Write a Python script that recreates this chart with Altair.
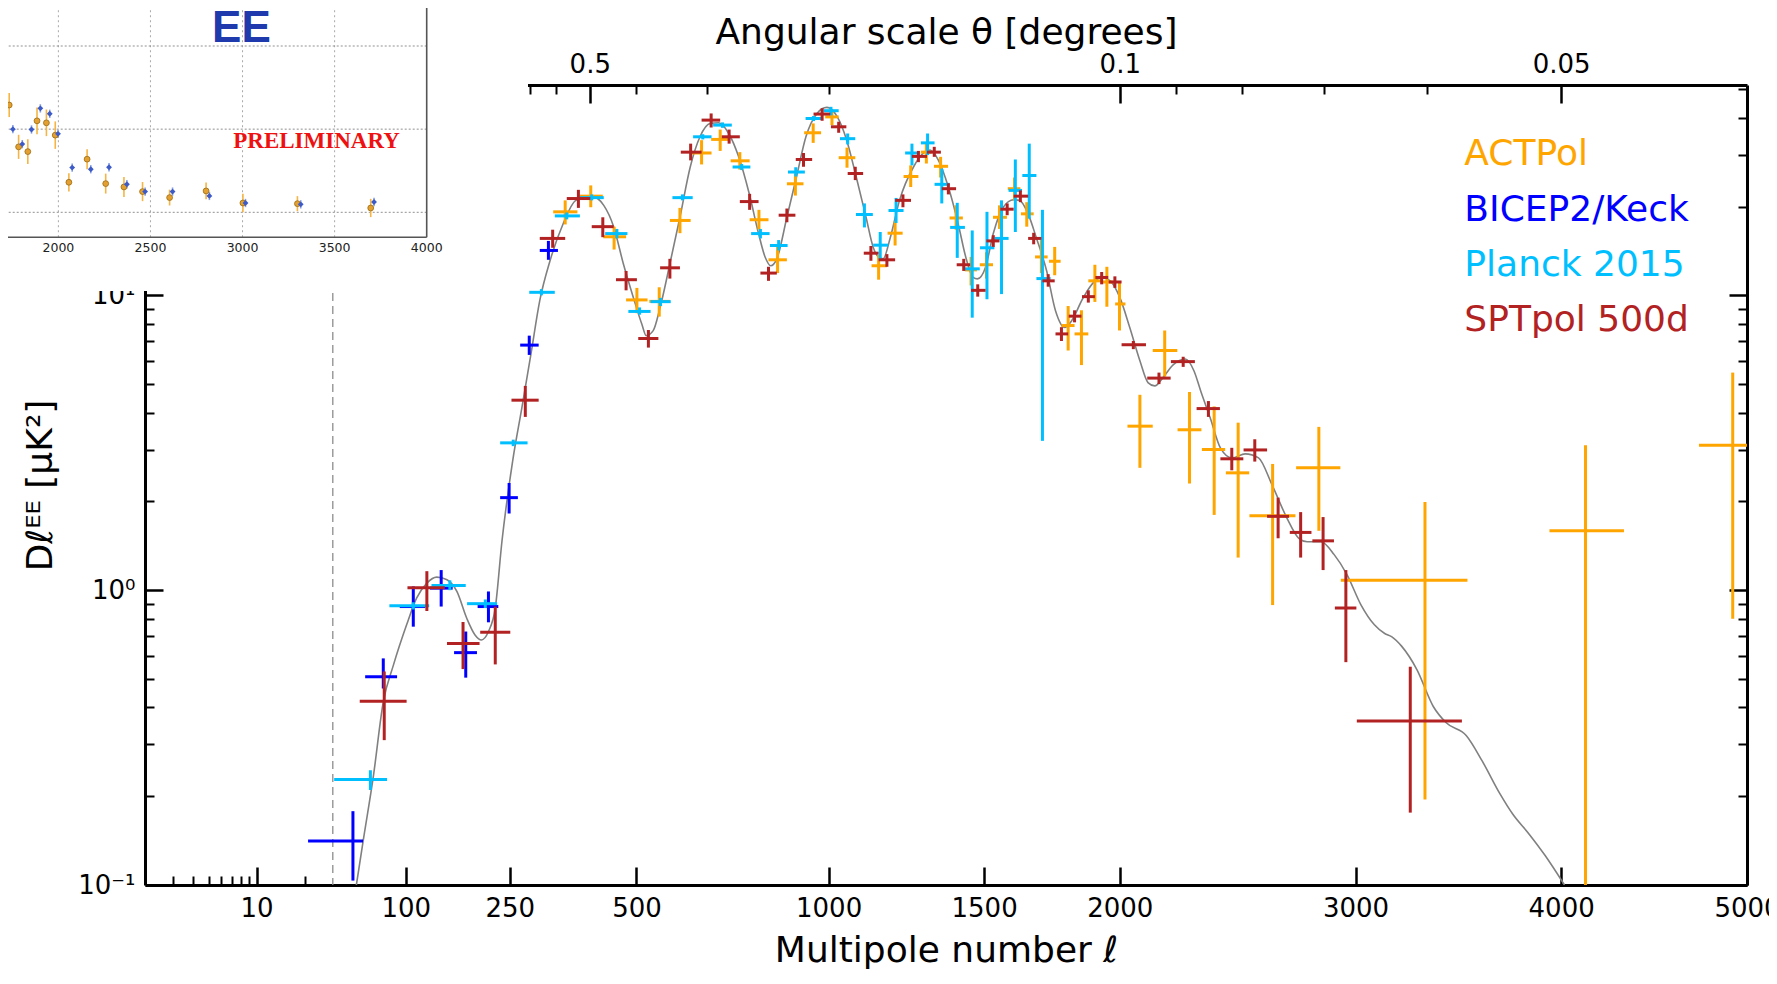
import math
import altair as alt
import pandas as pd

# ---------------- data ----------------
# ACTPol: multipole centre, bin edges, D_l and its error range
act_ell = [351, 402, 451, 501, 552, 601, 654, 701, 752, 803, 854, 904, 955, 1010, 1055, 1152, 1204, 1254, 1305, 1352,
           1404, 1455, 1508, 1554, 1607, 1651, 1704, 1753, 1803, 1853, 1904, 1950, 1999, 2079, 2178, 2279, 2381, 2482,
           2630, 2834, 3325, 4126, 4920]
act_lo = [328, 380, 428, 477, 529, 577, 630, 678, 728, 778, 829, 880, 929, 990, 1030, 1130, 1180, 1231, 1287, 1330,
          1382, 1434, 1485, 1531, 1583, 1630, 1681, 1732, 1778, 1827, 1879, 1930, 1982, 2030, 2130, 2230, 2330, 2430,
          2530, 2733, 2933, 3940, 4733]
act_hi = [375, 427, 477, 525, 577, 627, 679, 726, 778, 829, 880, 927, 978, 1030, 1080, 1178, 1228, 1279, 1322, 1377,
          1427, 1475, 1531, 1580, 1628, 1676, 1727, 1775, 1827, 1879, 1930, 1973, 2022, 2130, 2229, 2328, 2427, 2529,
          2730, 2931, 3530, 4328, 5110]
act_dl = [19.2, 21.7, 15.8, 9.65, 9.54, 17.95, 30.4, 33.8, 28.6, 18.05, 13.2, 23.9, 35.6, 40.3, 29.3, 12.6, 16.25, 25.3,
          30.6, 27.4, 18.3, 12.2, 12.7, 18.4, 23.0, 18.9, 13.5, 13.05, 7.9, 7.4, 11.2, 11.1, 9.35, 3.6, 6.5, 3.5, 3.0,
          2.5, 1.79, 2.6, 1.08, 1.59, 3.10]
act_dl_lo = [17.4, 19.9, 14.3, 8.7, 8.47, 16.25, 27.8, 30.9, 26.7, 16.7, 11.9, 21.8, 32.9, 37.8, 27.1, 11.3, 14.76,
             23.3, 28.0, 25.1, 16.7, 10.8, 11.4, 16.8, 21.0, 17.1, 11.9, 11.7, 6.5, 5.8, 9.5, 9.15, 7.6, 2.6, 5.3, 2.3,
             1.8, 1.29, 0.89, 1.59, 0.195, 0.01, 0.80]
act_dl_hi = [21.0, 23.6, 17.1, 10.6, 10.65, 19.8, 33.6, 36.5, 30.6, 19.5, 14.6, 25.9, 38.3, 42.5, 31.7, 13.7, 17.85,
             27.6, 32.7, 29.5, 20.2, 13.5, 14.0, 20.2, 25.1, 20.7, 15.4, 14.6, 9.2, 8.9, 12.7, 12.5, 11.1, 4.6, 7.6,
             4.7, 4.2, 3.7, 2.68, 3.58, 1.99, 3.10, 5.47]

# BICEP2/Keck
bk_ell = [46, 75, 109, 145, 180, 215, 249, 284, 319]
bk_lo = [21, 57, 93, 130, 163, 198, 234, 268, 303]
bk_hi = [55, 90, 124, 161, 197, 231, 264, 301, 337]
bk_dl = [0.141, 0.509, 0.88, 1.016, 0.614, 0.88, 2.06, 6.78, 14.2]
bk_dl_lo = [0.1035, 0.464, 0.752, 0.88, 0.505, 0.778, 1.82, 6.28, 13.2]
bk_dl_hi = [0.178, 0.587, 1.03, 1.17, 0.724, 0.99, 2.31, 7.30, 15.3]

# Planck 2015
pl_ell = [62, 109, 157, 210, 256, 306, 354, 404, 457, 507, 555, 607, 657, 707, 757, 807, 857, 905, 956, 1007, 1057,
          1108, 1157, 1207, 1258, 1309, 1356, 1408, 1459, 1510, 1561, 1610, 1660, 1708]
pl_lo = [31, 81.5, 132, 182, 234, 284, 331, 380, 432, 482, 532, 583, 633, 683, 733, 782, 833, 883, 933, 985, 1034,
         1082, 1135, 1183, 1236, 1287, 1332, 1384, 1434, 1486, 1537, 1586, 1635, 1686]
pl_hi = [79, 129, 180, 229, 281, 331, 380, 429, 480, 532, 579, 632, 679, 731, 780, 832, 882, 931, 980, 1030, 1080,
         1134, 1182, 1231, 1279, 1332, 1382, 1434, 1485, 1536, 1586, 1634, 1686, 1738]
pl_dl = [0.228, 0.885, 1.037, 0.90, 3.16, 10.24, 18.6, 21.45, 16.2, 8.82, 9.52, 21.45, 34.5, 37.8, 27.25, 16.2, 14.76,
         26.2, 39.8, 42.3, 34.0, 18.8, 14.8, 19.4, 30.4, 32.9, 23.8, 17.0, 12.3, 14.5, 15.6, 22.7, 25.5, 11.4]
pl_dl_lo = [0.21, 0.86, 1.0, 0.87, 3.08, 10.0, 18.1, 21.0, 15.6, 8.6, 9.2, 21.0, 33.8, 37.0, 26.6, 15.6, 14.2, 25.3,
            39.0, 40.8, 32.5, 17.0, 13.1, 17.6, 27.6, 29.9, 20.5, 13.4, 8.4, 9.7, 10.1, 16.4, 18.2, 3.21]
pl_dl_hi = [0.245, 0.91, 1.08, 0.93, 3.24, 10.5, 19.1, 22.0, 16.8, 9.1, 9.8, 22.0, 35.2, 38.6, 27.9, 16.8, 15.4, 27.2,
            40.6, 43.6, 35.4, 20.5, 16.4, 21.4, 32.7, 35.4, 26.9, 20.6, 16.6, 19.2, 21.0, 28.9, 32.7, 19.5]

# SPTpol 500d
spt_ell = [76, 126, 176, 226, 277, 327, 377, 427, 477, 527, 577, 627, 678, 724, 778, 829, 880, 927, 981, 1030, 1080,
           1128, 1178, 1229, 1279, 1331, 1378, 1430, 1478, 1532, 1581, 1628, 1676, 1729, 1778, 1827, 1879, 1930, 1981,
           2053, 2155, 2253, 2357, 2455, 2553, 2654, 2753, 2853, 2956, 3255]
spt_lo = [52, 102, 153, 202, 253, 303, 354, 404, 455, 504, 554, 603, 654, 705, 752, 807, 857, 905, 956, 1007, 1057,
          1106, 1152, 1204, 1258, 1307, 1356, 1406, 1455, 1508, 1557, 1604, 1656, 1708, 1756, 1805, 1855, 1906, 1957,
          2007, 2108, 2203, 2308, 2407, 2505, 2606, 2705, 2805, 2906, 3006]
spt_hi = [101, 150, 201, 251, 301, 351, 401, 450, 501, 550, 601, 654, 701, 752, 802, 852, 904, 952, 1005, 1053, 1104,
          1152, 1204, 1255, 1307, 1353, 1404, 1452, 1505, 1554, 1604, 1656, 1704, 1753, 1803, 1853, 1904, 1955, 2007,
          2103, 2202, 2301, 2405, 2504, 2606, 2702, 2801, 2902, 3004, 3503]
spt_dl = [0.42, 1.02, 0.66, 0.72, 4.41, 15.6, 21.3, 17.1, 11.3, 7.14, 12.4, 30.6, 39.3, 34.5, 20.8, 11.9, 18.7, 28.9,
          41.2, 37.3, 25.9, 13.9, 13.2, 21.0, 29.6, 30.6, 23.0, 12.7, 10.4, 15.3, 19.6, 21.7, 15.6, 11.2, 7.4, 8.5, 9.9,
          11.5, 11.1, 6.8, 5.24, 5.96, 4.13, 2.79, 2.99, 1.78, 1.57, 1.47, 0.87, 0.36]
spt_dl_lo = [0.31, 0.85, 0.54, 0.56, 3.87, 14.5, 19.8, 15.75, 10.4, 6.65, 11.4, 28.7, 37.1, 32.7, 19.5, 11.2, 17.7,
             27.3, 39.1, 35.6, 24.6, 13.1, 12.5, 19.9, 28.3, 29.5, 22.0, 12.1, 9.9, 14.6, 18.7, 20.7, 14.9, 10.7, 7.0,
             8.1, 9.45, 10.9, 10.6, 6.57, 5.0, 5.72, 3.87, 2.55, 2.73, 1.5, 1.29, 1.17, 0.57, 0.176]
spt_dl_hi = [0.53, 1.16, 0.78, 0.88, 4.93, 16.7, 22.8, 18.4, 12.1, 7.63, 13.3, 32.7, 41.4, 36.5, 22.1, 12.5, 19.7,
             30.4, 43.1, 38.8, 27.3, 14.7, 13.8, 22.0, 30.9, 31.9, 24.0, 13.3, 10.9, 16.0, 20.5, 22.7, 16.3, 11.8, 7.8,
             8.9, 10.4, 12.0, 11.6, 7.0, 5.47, 6.19, 4.38, 3.04, 3.25, 2.06, 1.84, 1.77, 1.17, 0.55]

# theory curve (grey line)
th_ell = [49, 55, 65, 75, 86, 101, 113, 126, 139, 153, 167, 181.5, 194, 204, 215, 226, 237, 255, 271, 287, 303, 322,
          347, 372, 404, 429, 450, 471, 493, 512, 522, 538, 554, 577, 601, 626, 650, 676, 697, 723, 749, 777, 802, 820,
          835, 852, 880, 907, 934, 966, 995, 1026, 1054, 1083, 1113, 1135, 1152, 1166, 1189, 1218, 1263, 1296, 1317,
          1345, 1378, 1411, 1437, 1462, 1477, 1505, 1532, 1567, 1604, 1625, 1656, 1685, 1723, 1756, 1790, 1816, 1857,
          1899, 1930, 1962, 2000, 2039, 2079, 2111, 2138, 2171, 2212, 2261, 2297, 2325, 2364, 2407, 2456, 2512, 2569,
          2627, 2692, 2745, 2782, 2843, 2903, 2961, 3025, 3087, 3135, 3167, 3214, 3287, 3364, 3427, 3524, 3603, 3690,
          3754, 3836, 3919, 4017]
th_dl = [0.1, 0.14, 0.235, 0.418, 0.558, 0.763, 0.94, 1.057, 1.107, 1.085, 0.99, 0.803, 0.705, 0.678, 0.724, 0.869,
         1.465, 2.74, 4.16, 6.32, 9.6, 13.1, 17.5, 21.0, 21.66, 20.2, 17.1, 12.8, 9.84, 7.99, 7.3, 7.59, 9.1, 12.8,
         18.4, 27.25, 34.5, 38.3, 38.5, 35.4, 29.5, 22.1, 16.2, 13.46, 12.6, 13.3, 18.4, 25.2, 34.5, 41.4, 43.4, 40.3,
         33.6, 25.2, 18.4, 14.57, 13.47, 13.3, 15.75, 21.0, 27.25, 30.4, 31.1, 28.7, 23.3, 17.5, 13.47, 11.5, 11.37,
         12.45, 16.2, 19.9, 21.1, 21.0, 18.9, 15.75, 12.14, 8.87, 7.78, 8.2, 9.72, 11.07, 11.5, 11.22, 9.84, 7.78, 6.0,
         5.06, 4.93, 5.26, 5.81, 6.08, 5.55, 4.74, 3.85, 3.04, 2.81, 2.9, 2.81, 2.28, 1.76, 1.5, 1.46, 1.46, 1.32, 1.13,
         0.892, 0.763, 0.713, 0.696, 0.646, 0.537, 0.404, 0.355, 0.3215, 0.263, 0.204, 0.174, 0.149, 0.1256, 0.1]

survey_names = ["ACTPol", "BICEP2/Keck", "Planck 2015", "SPTpol 500d"]
survey_colors = ["#ffa500", "#0000ff", "#00bfff", "#b22222"]

# axis ticks
x_major_ell = [10, 100, 250, 500, 1000, 1500, 2000, 3000, 4000, 5000]
x_minor_ell = [3, 4, 5, 6, 7, 8, 9, 20]
theta_major = [0.5, 0.1, 0.05]
theta_minor = [0.9, 0.8, 0.7, 0.6, 0.4, 0.3, 0.2, 0.09, 0.08, 0.07, 0.06]
y_major = [0.1, 1, 10]
y_minor = [0.2, 0.3, 0.4, 0.5, 0.6, 0.7, 0.8, 0.9, 2, 3, 4, 5, 6, 7, 8, 9, 20, 30, 40, 50]

# inset (pasted preliminary EE panel, top-left)
ins_o_ell = [1687, 1733, 1784, 1834, 1884, 1935, 1983, 2057, 2156, 2257, 2356, 2457, 2604, 2802, 3002, 3298, 3696]
ins_o_dl = [13.3, 12.9, 7.87, 7.3, 11.0, 10.76, 9.28, 3.61, 6.39, 3.45, 3.05, 2.49, 1.77, 2.57, 1.12, 1.04, 0.52]
ins_o_err = [1.5, 1.45, 1.45, 1.5, 1.6, 1.6, 1.65, 1.1, 1.2, 1.2, 1.2, 1.15, 0.95, 1.0, 1.1, 0.9, 1.1]
ins_b_ell = [1705, 1753, 1804, 1854, 1902, 1953, 1998, 2075, 2176, 2275, 2372, 2471, 2620, 2820, 3016, 3316, 3714]
ins_b_dl = [14.0, 10.0, 8.2, 9.96, 12.5, 11.85, 9.44, 5.38, 5.18, 5.42, 3.37, 2.49, 2.49, 1.97, 1.12, 0.96, 1.24]
ins_b_err = [0.5, 0.5, 0.5, 0.5, 0.5, 0.5, 0.5, 0.5, 0.5, 0.5, 0.5, 0.5, 0.5, 0.5, 0.5, 0.5, 0.5]
ins_grid_x = [2000, 2500, 3000, 3500]
ins_grid_y = [0, 10, 20]
ins_tick_labels = [2000, 2500, 3000, 3500, 4000]

# ---------------- layout / scales ----------------
W, H = 1602, 800
PAD = {"left": 137, "top": 77, "right": 22, "bottom": 90}

# multipole axis: logarithmic below l=30, l^0.6 above
K, C0, DEC = 8.95, 263.85, 159.7
P30 = C0 + K * 30 ** 0.6


def warp(l):
    if l >= 30:
        return C0 + K * l ** 0.6
    return P30 + DEC * math.log10(l / 30.0)


def wexpr(f):
    return (f"datum['{f}'] >= 30 ? {C0} + {K} * pow(datum['{f}'], 0.6) : "
            f"{P30:.6f} + {DEC} * log(datum['{f}'] / 30) / LN10")


INV = (f"(datum.value >= {P30:.6f} ? pow((datum.value - {C0}) / {K}, {1 / 0.6:.10f}) : "
       f"30 * pow(10, (datum.value - {P30:.6f}) / {DEC}))")

XS = alt.Scale(type="linear", domain=[warp(2), warp(5000)], nice=False, zero=False)
YS = alt.Scale(type="log", domain=[0.1, 51.7], nice=False)

AX = dict(grid=False, domainColor="black", tickColor="black", labelColor="black", titleColor="black",
          labelFont="DejaVu Sans", titleFont="DejaVu Sans", titleFontWeight="normal",
          labelFlush=False, labelOverlap=False)


def series_layers(ell, lo, hi, dl, dlo, dhi, color):
    df = pd.DataFrame({"l": ell, "lo": lo, "hi": hi, "d": dl, "dlo": dlo, "dhi": dhi})
    base = alt.Chart(df).transform_calculate(u=wexpr("l"), ulo=wexpr("lo"), uhi=wexpr("hi"))
    h = base.mark_rule(color=color, strokeWidth=3, clip=True).encode(
        x=alt.X("ulo:Q", scale=XS, axis=None), x2="uhi:Q", y=alt.Y("d:Q", scale=YS, axis=None))
    v = base.mark_rule(color=color, strokeWidth=3, clip=True).encode(
        x=alt.X("u:Q", scale=XS, axis=None), y=alt.Y("dlo:Q", scale=YS, axis=None), y2="dhi:Q")
    return [h, v]


main_layers = []

theory = alt.Chart(pd.DataFrame({"l": th_ell, "d": th_dl})).transform_calculate(u=wexpr("l")).mark_line(
    color="#808080", strokeWidth=1.6, interpolate="monotone", clip=True).encode(
    x=alt.X("u:Q", scale=XS, axis=None), y=alt.Y("d:Q", scale=YS, axis=None))
main_layers.append(theory)

dashed = alt.Chart(pd.DataFrame({"l": [30]})).transform_calculate(u=wexpr("l")).mark_rule(
    color="#8c8c8c", strokeWidth=1.3, strokeDash=[8, 5]).encode(x=alt.X("u:Q", scale=XS, axis=None))
main_layers.append(dashed)

main_layers += series_layers(act_ell, act_lo, act_hi, act_dl, act_dl_lo, act_dl_hi, survey_colors[0])
main_layers += series_layers(bk_ell, bk_lo, bk_hi, bk_dl, bk_dl_lo, bk_dl_hi, survey_colors[1])
main_layers += series_layers(pl_ell, pl_lo, pl_hi, pl_dl, pl_dl_lo, pl_dl_hi, survey_colors[2])
main_layers += series_layers(spt_ell, spt_lo, spt_hi, spt_dl, spt_dl_lo, spt_dl_hi, survey_colors[3])

legend_x_ell = 3515
legend_y = [27.6, 17.85, 11.67, 7.58]
leg = alt.Chart(pd.DataFrame({"name": survey_names, "color": survey_colors, "l": [legend_x_ell] * 4,
                              "d": legend_y})).transform_calculate(u=wexpr("l")).mark_text(
    align="left", baseline="alphabetic", fontSize=36, font="DejaVu Sans").encode(
    x=alt.X("u:Q", scale=XS, axis=None), y=alt.Y("d:Q", scale=YS, axis=None), text="name:N",
    color=alt.Color("color:N", scale=None))
main_layers.append(leg)

dummy = pd.DataFrame({"u": [800.0], "d": [1.0]})


def axis_layer(xaxis, yaxis):
    return alt.Chart(dummy).mark_point(opacity=0).encode(
        x=alt.X("u:Q", scale=XS, axis=xaxis), y=alt.Y("d:Q", scale=YS, axis=yaxis))


bx_major = [warp(v) for v in x_major_ell]
bx_minor = [warp(v) for v in x_minor_ell]
tx_major = [warp(200.0 / t) for t in theta_major]
tx_minor = [warp(200.0 / t) for t in theta_minor]

main_layers.append(axis_layer(
    alt.Axis(orient="bottom", values=bx_major, labelExpr=f"format({INV}, 'd')", ticks=False, domainWidth=3,
             labelFontSize=26, labelPadding=10, title="Multipole number ℓ", titleFontSize=36, titlePadding=12, **AX),
    alt.Axis(orient="left", values=y_major,
             labelExpr="datum.value < 0.5 ? '10⁻¹' : (datum.value < 5 ? '10⁰' : '10¹')",
             ticks=False, domainWidth=3, labelFontSize=26, labelPadding=10,
             title="Dℓᴱᴱ [μK²]", titleFontSize=36, titlePadding=18, **AX)))
main_layers.append(axis_layer(
    alt.Axis(orient="bottom", values=bx_major, labels=False, domain=False, tickSize=18, tickWidth=2.5,
             offset=-18, title=None, **AX),
    alt.Axis(orient="left", values=y_major, labels=False, domain=False, tickSize=18, tickWidth=2.5,
             offset=-18, title=None, **AX)))
main_layers.append(axis_layer(
    alt.Axis(orient="bottom", values=bx_minor, labels=False, domain=False, tickSize=9, tickWidth=2,
             offset=-9, title=None, **AX),
    alt.Axis(orient="left", values=y_minor, labels=False, domain=False, tickSize=9, tickWidth=2,
             offset=-9, title=None, **AX)))
main_layers.append(axis_layer(
    alt.Axis(orient="top", values=tx_major, labelExpr=f"format(200 / {INV}, '.2~f')", ticks=False,
             domainWidth=3, labelFontSize=26, labelPadding=8, title="Angular scale θ [degrees]",
             titleFontSize=36, titlePadding=0, **AX),
    alt.Axis(orient="right", values=y_major, labels=False, ticks=False, domainWidth=3, title=None, **AX)))
main_layers.append(axis_layer(
    alt.Axis(orient="top", values=tx_major, labels=False, domain=False, tickSize=18, tickWidth=2.5,
             offset=-18, title=None, **AX),
    alt.Axis(orient="right", values=y_major, labels=False, domain=False, tickSize=18, tickWidth=2.5,
             offset=-18, title=None, **AX)))
main_layers.append(axis_layer(
    alt.Axis(orient="top", values=tx_minor, labels=False, domain=False, tickSize=9, tickWidth=2,
             offset=-9, title=None, **AX),
    alt.Axis(orient="right", values=y_minor, labels=False, domain=False, tickSize=9, tickWidth=2,
             offset=-9, title=None, **AX)))

main = alt.layer(*main_layers).resolve_axis(x="independent", y="independent")

# ---------------- inset panel ----------------
XI = alt.Scale(domain=[1683, 4000], range=[-145.0, 281.7], nice=False, zero=False)
YI = alt.Scale(domain=[0, 20], range=[127.3, -39.0], nice=False, zero=False)


def ix(f):
    return alt.X(f, scale=XI, axis=None)


def iy(f):
    return alt.Y(f, scale=YI, axis=None)


inset_layers = []
inset_layers.append(alt.Chart(pd.DataFrame({"a": [900], "b": [4550], "c": [-9.45], "e": [45]})).mark_rect(
    color="white", opacity=1).encode(x=ix("a:Q"), x2="b:Q", y=iy("c:Q"), y2="e:Q"))
inset_layers.append(alt.Chart(pd.DataFrame({"g": ins_grid_x, "c": [-3] * 4, "e": [45] * 4})).mark_rule(
    color="#a8a8a8", strokeWidth=1, strokeDash=[2, 3]).encode(x=ix("g:Q"), y=iy("c:Q"), y2="e:Q"))
inset_layers.append(alt.Chart(pd.DataFrame({"g": ins_grid_y, "a": [1600] * 3, "b": [4000] * 3})).mark_rule(
    color="#909090", strokeWidth=1, strokeDash=[2, 2]).encode(y=iy("g:Q"), x=ix("a:Q"), x2="b:Q"))
inset_layers.append(alt.Chart(pd.DataFrame({"a": [4000], "c": [-3], "e": [45]})).mark_rule(
    color="#555555", strokeWidth=1.6).encode(x=ix("a:Q"), y=iy("c:Q"), y2="e:Q"))
inset_layers.append(alt.Chart(pd.DataFrame({"a": [1600], "b": [4000], "c": [-3]})).mark_rule(
    color="#555555", strokeWidth=1.6).encode(x=ix("a:Q"), x2="b:Q", y=iy("c:Q")))
inset_layers.append(alt.Chart(pd.DataFrame({"t": ins_tick_labels, "lab": [str(v) for v in ins_tick_labels],
                                            "c": [-4.74] * 5})).mark_text(
    fontSize=12.5, color="#222222", baseline="alphabetic", font="DejaVu Sans").encode(
    x=ix("t:Q"), y=iy("c:Q"), text="lab:N"))
inset_layers.append(alt.Chart(pd.DataFrame({"a": [2994], "c": [20.5], "txt": ["EE"]})).mark_text(
    fontSize=44, fontWeight="bold", font="Liberation Sans", color="#1f3aad", baseline="alphabetic").encode(
    x=ix("a:Q"), y=iy("c:Q"), text="txt:N"))
inset_layers.append(alt.Chart(pd.DataFrame({"a": [3402], "c": [7.73], "txt": ["PRELIMINARY"]})).mark_text(
    fontSize=23, fontWeight="bold", font="Liberation Serif", color="#ee1111", baseline="alphabetic").encode(
    x=ix("a:Q"), y=iy("c:Q"), text="txt:N"))

ins_o = pd.DataFrame({"l": ins_o_ell, "d": ins_o_dl, "e": ins_o_err})
ins_b = pd.DataFrame({"l": ins_b_ell, "d": ins_b_dl, "e": ins_b_err})
inset_layers.append(alt.Chart(ins_o).transform_calculate(lo="datum.d - datum.e", hi="datum.d + datum.e").mark_rule(
    color="#f6b443", strokeWidth=1.6).encode(x=ix("l:Q"), y=iy("lo:Q"), y2="hi:Q"))
inset_layers.append(alt.Chart(ins_b).transform_calculate(lo="datum.d - datum.e", hi="datum.d + datum.e").mark_rule(
    color="#86a0e8", strokeWidth=1.6).encode(x=ix("l:Q"), y=iy("lo:Q"), y2="hi:Q"))
inset_layers.append(alt.Chart(ins_o).mark_circle(size=34, color="#e3a030", stroke="#9b6b12", strokeWidth=0.8,
                                                 opacity=1).encode(x=ix("l:Q"), y=iy("d:Q")))
inset_layers.append(alt.Chart(ins_b).mark_point(shape="diamond", filled=True, size=34, color="#3d5bc7",
                                                opacity=1).encode(x=ix("l:Q"), y=iy("d:Q")))

inset = alt.layer(*inset_layers)

chart = alt.layer(main, inset).resolve_scale(x="independent", y="independent").properties(
    width=W, height=H, padding=PAD, autosize=alt.AutoSizeParams(type="none")
).configure_view(stroke=None)

chart.save("out.html", embed_options={"renderer": "svg", "actions": False})
